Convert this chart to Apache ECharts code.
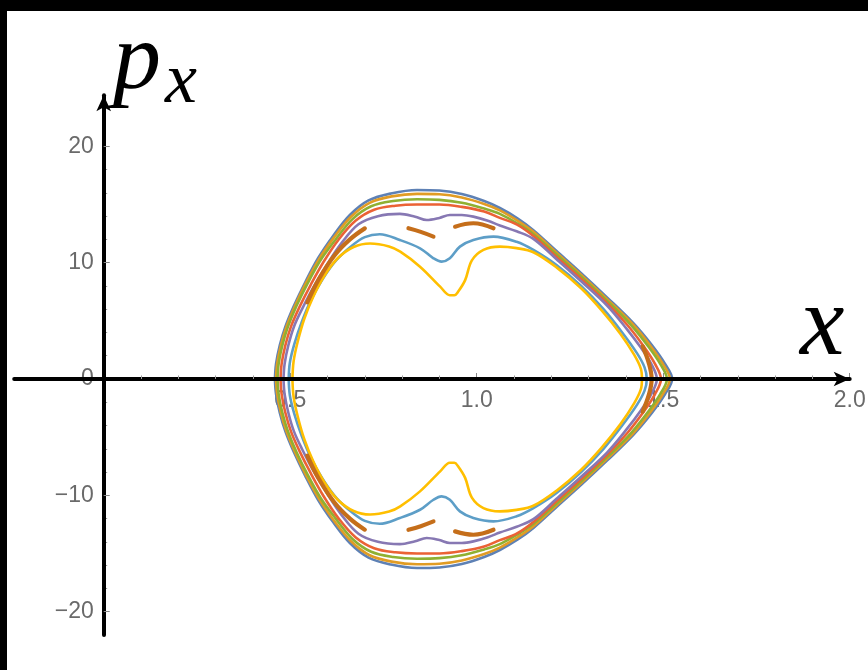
<!DOCTYPE html>
<html>
<head>
<meta charset="utf-8">
<script src="https://cdn.jsdelivr.net/npm/echarts@6/dist/echarts.min.js"></script>
<style>
  html, body { margin: 0; padding: 0; background: #000; }
  #chart { position: absolute; left: 7px; top: 11px; width: 861px; height: 659px; background: #fff; }
</style>
</head>
<body>
<div id="chart"></div>
<script>
// Poincaré section (x, p_x): one closed orbit per colour, outermost first.
const orbitBlue = [
  [0.459,0],[0.462,1.3],[0.472,2.9],[0.487,4.5],[0.510,6.3],[0.540,8.3],[0.575,10.4],[0.615,12.3],[0.660,14.1],[0.710,15.35],[0.770,15.95],[0.840,16.25],[0.900,16.2],[0.960,15.9],[1.020,15.3],
  [1.062,14.7],[1.110,13.8],[1.152,12.8],[1.214,11.0],[1.280,9.1],[1.350,7.0],[1.420,4.8],[1.470,2.9],[1.505,1.3],[1.524,0],
  [1.505,-1.3],[1.470,-2.9],[1.420,-4.8],[1.350,-7.0],[1.280,-9.1],[1.214,-11.0],[1.152,-12.8],[1.110,-13.8],[1.062,-14.7],
  [1.020,-15.3],[0.960,-15.9],[0.900,-16.2],[0.840,-16.25],[0.770,-15.95],[0.710,-15.35],[0.660,-14.1],[0.615,-12.3],[0.575,-10.4],[0.540,-8.3],[0.510,-6.3],[0.487,-4.5],[0.472,-2.9],[0.462,-1.3],[0.459,0]
];
const orbitOrange = [
  [0.462,0],[0.465,1.3],[0.475,2.9],[0.490,4.5],[0.513,6.3],[0.543,8.3],[0.578,10.35],[0.618,12.2],[0.663,13.95],[0.713,15.15],[0.772,15.7],[0.840,15.92],[0.900,15.88],[0.960,15.6],[1.020,15.05],
  [1.062,14.5],[1.110,13.6],[1.152,12.65],[1.214,10.85],[1.280,8.95],[1.350,6.85],[1.420,4.65],[1.467,2.8],[1.499,1.3],[1.518,0],
  [1.499,-1.3],[1.467,-2.8],[1.420,-4.65],[1.350,-6.85],[1.280,-8.95],[1.214,-10.85],[1.152,-12.65],[1.110,-13.6],[1.062,-14.5],
  [1.020,-15.05],[0.960,-15.6],[0.900,-15.88],[0.840,-15.92],[0.772,-15.7],[0.713,-15.15],[0.663,-13.95],[0.618,-12.2],[0.578,-10.35],[0.543,-8.3],[0.513,-6.3],[0.490,-4.5],[0.475,-2.9],[0.465,-1.3],[0.462,0]
];
const orbitGreen = [
  [0.466,0],[0.469,1.3],[0.479,2.9],[0.494,4.5],[0.517,6.3],[0.547,8.25],[0.582,10.25],[0.622,12.0],[0.667,13.75],[0.717,14.85],[0.776,15.3],[0.840,15.45],[0.900,15.4],[0.960,15.15],[1.020,14.65],
  [1.062,14.2],[1.110,13.35],[1.152,12.45],[1.214,10.7],[1.280,8.8],[1.350,6.7],[1.415,4.6],[1.460,2.8],[1.492,1.3],[1.510,0],
  [1.492,-1.3],[1.460,-2.8],[1.415,-4.6],[1.350,-6.7],[1.280,-8.8],[1.214,-10.7],[1.152,-12.45],[1.110,-13.35],[1.062,-14.2],
  [1.020,-14.65],[0.960,-15.15],[0.900,-15.4],[0.840,-15.45],[0.776,-15.3],[0.717,-14.85],[0.667,-13.75],[0.622,-12.0],[0.582,-10.25],[0.547,-8.25],[0.517,-6.3],[0.494,-4.5],[0.479,-2.9],[0.469,-1.3],[0.466,0]
];
const orbitRed = [
  [0.474,0],[0.477,1.3],[0.487,2.9],[0.502,4.5],[0.525,6.2],[0.555,8.1],[0.590,10.1],[0.630,12.0],[0.675,13.6],[0.725,14.55],[0.782,14.9],[0.840,15.0],[0.900,15.0],[0.960,14.8],[1.020,14.4],
  [1.062,13.85],[1.107,13.3],[1.152,12.3],[1.214,10.5],[1.280,8.6],[1.350,6.5],[1.405,4.6],[1.448,2.8],[1.478,1.3],[1.494,0],
  [1.478,-1.3],[1.448,-2.8],[1.405,-4.6],[1.350,-6.5],[1.280,-8.6],[1.214,-10.5],[1.152,-12.3],[1.107,-13.3],[1.062,-13.85],
  [1.020,-14.4],[0.960,-14.8],[0.900,-15.0],[0.840,-15.0],[0.782,-14.9],[0.725,-14.55],[0.675,-13.6],[0.630,-12.0],[0.590,-10.1],[0.555,-8.1],[0.525,-6.2],[0.502,-4.5],[0.487,-2.9],[0.477,-1.3],[0.474,0]
];
const orbitPurple = [
  [0.482,0],[0.485,1.3],[0.495,2.9],[0.510,4.5],[0.533,6.1],[0.563,7.95],[0.598,9.8],[0.638,11.7],[0.683,13.3],[0.735,14.0],[0.794,14.2],[0.835,13.95],[0.866,13.67],[0.900,13.85],[0.928,14.1],[0.960,14.1],[0.991,13.96],[1.030,13.6],
  [1.062,13.2],[1.107,12.7],[1.152,12.05],[1.214,10.3],[1.280,8.4],[1.350,6.3],[1.400,4.4],[1.440,2.7],[1.468,1.3],[1.483,0],
  [1.468,-1.3],[1.440,-2.7],[1.400,-4.4],[1.350,-6.3],[1.280,-8.4],[1.214,-10.3],[1.152,-12.05],[1.107,-12.7],[1.062,-13.2],
  [1.030,-13.6],[0.991,-13.96],[0.960,-14.1],[0.928,-14.1],[0.900,-13.85],[0.866,-13.67],[0.835,-13.95],[0.794,-14.2],[0.735,-14.0],[0.683,-13.3],[0.638,-11.7],[0.598,-9.8],[0.563,-7.95],[0.533,-6.1],[0.510,-4.5],[0.495,-2.9],[0.485,-1.3],[0.482,0]
];
const orbitLightBlue = [
  [0.496,0],[0.499,1.4],[0.511,3.0],[0.531,4.9],[0.556,6.8],[0.587,8.6],[0.623,10.2],[0.663,11.4],[0.700,12.2],[0.740,12.45],[0.794,11.95],[0.848,11.24],[0.884,10.38],[0.906,10.09],[0.928,10.38],[0.955,11.38],[0.991,11.95],[1.045,12.24],
  [1.107,11.8],[1.152,11.1],[1.214,9.8],[1.280,8.0],[1.340,6.0],[1.390,4.0],[1.430,2.2],[1.450,1.0],[1.456,0],
  [1.450,-1.0],[1.430,-2.2],[1.390,-4.0],[1.340,-6.0],[1.280,-8.0],[1.214,-9.8],[1.152,-11.1],[1.107,-11.8],
  [1.045,-12.24],[0.991,-11.95],[0.955,-11.38],[0.928,-10.38],[0.906,-10.09],[0.884,-10.38],[0.848,-11.24],[0.794,-11.95],[0.740,-12.45],[0.700,-12.2],[0.663,-11.4],[0.623,-10.2],[0.587,-8.6],[0.556,-6.8],[0.531,-4.9],[0.511,-3.0],[0.499,-1.4],[0.496,0]
];
const orbitYellow = [
  [0.506,0],[0.509,1.5],[0.520,3.2],[0.538,5.2],[0.562,7.1],[0.592,8.9],[0.628,10.4],[0.670,11.35],[0.714,11.65],[0.765,11.4],[0.795,10.95],[0.848,9.66],[0.902,7.94],[0.928,7.2],[0.940,7.2],[0.950,7.5],[0.969,8.5],[0.987,10.2],[1.018,11.1],[1.062,11.38],
  [1.107,11.25],[1.152,10.9],[1.214,9.6],[1.280,7.8],[1.335,5.9],[1.385,3.9],[1.422,2.1],[1.440,0.9],[1.443,0],
  [1.440,-0.9],[1.422,-2.1],[1.385,-3.9],[1.335,-5.9],[1.280,-7.8],[1.214,-9.6],[1.152,-10.9],[1.107,-11.25],
  [1.062,-11.38],[1.018,-11.1],[0.987,-10.2],[0.969,-8.5],[0.950,-7.5],[0.940,-7.2],[0.928,-7.2],[0.902,-7.94],[0.848,-9.66],[0.795,-10.95],[0.765,-11.4],[0.714,-11.65],[0.670,-11.35],[0.628,-10.4],[0.592,-8.9],[0.562,-7.1],[0.538,-5.2],[0.520,-3.2],[0.509,-1.5],[0.506,0]
];
// Resonant island chain (brown): separate thin islands
const islandsBrown = [
  [[0.546,6.6],[0.577,8.6],[0.618,10.6],[0.660,12.0],[0.700,12.95]],
  [[0.817,12.96],[0.850,12.65],[0.884,12.24]],
  [[0.942,13.1],[0.991,13.39],[1.045,12.96]],
  [[1.445,2.8],[1.462,1.3],[1.469,0],[1.462,-1.3],[1.445,-2.8]],
  [[0.942,-13.1],[0.991,-13.39],[1.045,-12.96]],
  [[0.817,-12.96],[0.850,-12.65],[0.884,-12.24]],
  [[0.546,-6.6],[0.577,-8.6],[0.618,-10.6],[0.660,-12.0],[0.700,-12.95]]
];

const xMajorTicks = [0.5, 1.0, 1.5, 2.0];
const xMinorTicks = [0.1,0.2,0.3,0.4,0.6,0.7,0.8,0.9,1.1,1.2,1.3,1.4,1.6,1.7,1.8,1.9];
const yMajorTicks = [-20, -10, 0, 10, 20];
const yMinorTicks = [-18,-16,-14,-12,-8,-6,-4,-2,2,4,6,8,12,14,16,18];

const orbits = [
  { data: orbitBlue,      color: '#5E81B5' },
  { data: orbitOrange,    color: '#E19C24' },
  { data: orbitGreen,     color: '#8FB032' },
  { data: orbitRed,       color: '#EB6235' },
  { data: orbitPurple,    color: '#8778B3' },
  { data: orbitLightBlue, color: '#5D9EC7' },
  { data: orbitYellow,    color: '#FFBF00' }
];

const series = [];
orbits.forEach(o => {
  series.push({
    type: 'line', data: o.data, xAxisIndex: 0, yAxisIndex: 0,
    showSymbol: false, smooth: 0.35, silent: true, z: 5,
    lineStyle: { color: o.color, width: 2.6 }
  });
});
islandsBrown.forEach(seg => {
  series.push({
    type: 'line', data: seg, xAxisIndex: 0, yAxisIndex: 0,
    showSymbol: false, smooth: 0.4, silent: true, z: 5,
    lineStyle: { color: '#C56E1A', width: 4.2, cap: 'round' }
  });
});

// Plot frame (container px): x from -0.24 to 2.0, p_x from -22 to 24.4
const X_MIN = -0.24, X_MAX = 2.0, Y_MIN = -22, Y_MAX = 24.4;
const G = { left: 7.2, right: 18.3, top: 84.2, bottom: 35.1 };
const W = 861 - G.left - G.right, H = 659 - G.top - G.bottom;
// shift axes from the frame edges onto the zero lines
const xAxisShift = -(H * (0 - Y_MIN) / (Y_MAX - Y_MIN));
const yAxisShift = -(W * (0 - X_MIN) / (X_MAX - X_MIN));

const labelStyle = { color: '#6a6a6a', fontFamily: 'Liberation Sans, Arial, sans-serif', fontSize: 23 };
const mathFont = 'Liberation Serif, DejaVu Serif, serif';

const chart = echarts.init(document.getElementById('chart'));
chart.setOption({
  animation: false,
  grid: { left: G.left, right: G.right, top: G.top, bottom: G.bottom, containLabel: false, outerBoundsMode: 'none' },
  xAxis: [
    {
      type: 'value', min: X_MIN, max: X_MAX, position: 'bottom', offset: xAxisShift, z: 1,
      axisLine: { show: false, onZero: false },
      axisTick: { show: true, inside: true, length: 6, customValues: xMajorTicks, lineStyle: { color: '#888', width: 1 } },
      axisLabel: { show: true, customValues: xMajorTicks, margin: 10, formatter: v => v.toFixed(1), ...labelStyle },
      splitLine: { show: false }
    },
    {
      type: 'value', min: X_MIN, max: X_MAX, position: 'bottom', offset: xAxisShift, z: 10,
      axisLine: { show: true, onZero: false, symbol: ['none', 'arrow'], symbolSize: [11, 16], lineStyle: { color: '#000', width: 4 } },
      axisTick: { show: true, inside: true, length: 3.5, customValues: xMinorTicks, lineStyle: { color: '#999', width: 1 } },
      axisLabel: { show: false },
      splitLine: { show: false }
    }
  ],
  yAxis: [
    {
      type: 'value', min: Y_MIN, max: Y_MAX, position: 'left', offset: yAxisShift, z: 1,
      axisLine: { show: true, onZero: false, symbol: ['none', 'arrow'], symbolSize: [11, 16], lineStyle: { color: '#000', width: 4 } },
      axisTick: { show: true, inside: true, length: 6, customValues: yMajorTicks, lineStyle: { color: '#888', width: 1 } },
      axisLabel: { show: true, customValues: yMajorTicks, margin: 10, formatter: v => String(v).replace('-', '\u2212'), ...labelStyle },
      splitLine: { show: false }
    },
    {
      type: 'value', min: Y_MIN, max: Y_MAX, position: 'left', offset: yAxisShift,
      axisLine: { show: false, onZero: false },
      axisTick: { show: true, inside: true, length: 3.5, customValues: yMinorTicks, lineStyle: { color: '#999', width: 1 } },
      axisLabel: { show: false },
      splitLine: { show: false }
    }
  ],
  graphic: [
    {
      type: 'text', left: 106, top: 4, silent: true,
      style: { text: 'p', fontFamily: mathFont, fontStyle: 'italic', fontSize: 96, fill: '#000' }
    },
    {
      type: 'text', left: 158, top: 36, silent: true,
      style: { text: 'x', fontFamily: mathFont, fontStyle: 'italic', fontSize: 72, fill: '#000' }
    },
    {
      type: 'text', left: 793, top: 267, silent: true,
      style: { text: 'x', fontFamily: mathFont, fontStyle: 'italic', fontSize: 100, fill: '#000' }
    }
  ],
  series: series
});
</script>
</body>
</html>
